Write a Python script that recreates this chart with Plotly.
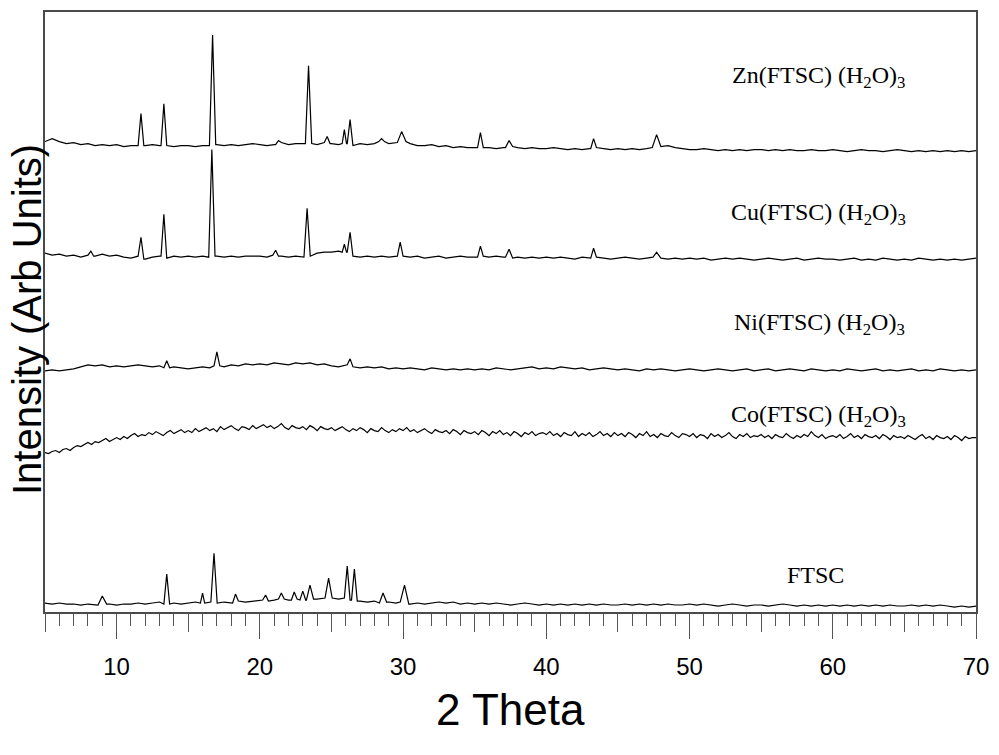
import plotly.graph_objects as go

# Baseline intensities (arb. units, stacked offsets included).
# Sampled every 0.5 deg from 5 to 70 (Co pattern every 0.25 deg).
zn_base = [472,475,472,470,471,469,470,468,469,468,
           469,467,468,468,468,469,468,468,467,468,
           468,467,468,468,469,468,469,468,469,470,
           469,468,469,471,469,470,470,470,469,471,
           470,469,470,468,470,469,470,472,470,471,
           472,470,468,468,469,467,468,466,467,466,
           466,466,466,465,466,467,466,465,466,465,
           465,466,465,464,465,464,465,466,465,464,
           465,464,465,464,465,466,467,468,466,465,
           464,464,465,464,463,464,463,464,463,464,
           464,463,464,463,464,463,463,464,463,463,
           464,463,462,463,464,463,463,462,463,464,
           463,462,463,462,463,462,463,462,463,462,
           463]
cu_base = [360,358,359,357,358,356,358,357,359,357,
           358,356,355,357,354,356,357,355,357,356,
           357,356,357,356,357,356,357,356,357,357,
           357,356,358,357,356,357,356,357,360,361,
           361,362,361,357,356,357,356,357,356,357,
           357,356,357,355,356,357,355,356,357,356,
           356,357,356,357,356,355,356,355,356,355,
           356,355,356,355,354,356,355,356,355,354,
           355,356,355,354,355,356,355,354,355,354,
           355,354,355,353,354,355,354,355,354,353,
           354,355,354,353,354,355,353,354,355,354,
           354,353,354,355,353,354,353,355,354,353,
           354,353,355,354,353,354,353,354,353,354,
           355]
ni_base = [242,243,242,243,244,246,248,247,248,246,
           247,246,247,248,247,246,247,245,246,245,
           244,245,246,245,247,246,248,247,249,248,
           249,248,250,249,248,250,249,250,248,249,
           247,246,248,246,245,246,245,246,244,245,
           244,245,244,243,245,244,243,244,243,244,
           243,244,243,245,244,243,244,245,246,244,
           245,244,246,245,244,245,243,244,245,244,
           243,244,243,242,244,243,244,243,242,243,
           244,243,242,243,244,243,242,243,244,242,
           243,244,242,243,244,243,242,244,243,242,
           243,242,244,243,242,243,244,242,243,242,
           243,244,242,243,242,244,243,242,243,242,
           243]
co_base = [160,159,161,162,160,163,164,162,165,167,166,168,170,168,171,170,172,174,171,173,
           175,173,176,174,177,179,176,178,177,180,178,181,179,177,180,182,179,181,183,180,
           182,180,184,181,183,185,182,184,181,186,183,185,187,184,182,186,185,183,187,184,
           186,188,185,187,184,186,189,185,183,187,185,184,186,183,187,185,182,186,184,183,
           185,182,184,186,183,181,184,182,185,183,180,184,182,181,185,182,180,183,181,184,
           182,185,181,183,180,182,184,181,179,183,181,180,182,179,183,181,178,182,180,179,
           181,178,182,180,177,181,179,182,178,180,177,181,179,176,180,178,181,177,179,180,
           178,181,177,179,176,180,178,177,181,176,179,177,180,176,178,181,177,179,176,180,
           177,179,176,180,178,175,179,177,181,176,178,175,179,177,176,180,177,175,179,178,
           176,179,175,178,177,174,179,176,178,175,177,180,176,174,178,176,179,175,177,176,
           178,175,177,174,178,176,175,179,176,174,177,175,178,176,181,177,175,178,174,176,
           177,175,178,174,176,179,175,177,174,178,176,175,177,174,178,176,173,177,175,176,
           174,177,175,173,176,178,174,176,173,177,175,174,176,173,177,175,172,176,174,175,
           175]
ftsc_base = [9,8,9,8,8,7,8,7,9,8,
             7,8,8,9,8,9,10,8,9,8,
             9,10,9,10,9,10,9,11,10,11,
             12,11,12,13,12,13,12,14,13,14,
             14,13,14,12,11,10,11,9,10,9,
             10,8,9,8,9,10,9,10,8,9,
             8,9,8,9,8,7,8,9,8,7,
             8,7,8,7,8,7,8,7,8,7,
             7,8,7,8,7,8,7,8,7,7,
             8,7,8,7,6,7,8,7,6,7,
             7,6,7,8,7,6,7,6,7,6,
             7,6,7,6,7,6,7,6,7,6,
             6,7,6,7,6,7,6,5,6,5,
             6]

# Peaks: (2theta, apex intensity, half width in degrees)
zn_peaks = [(11.7,500,0.2),(13.3,510,0.2),(16.7,579,0.22),(21.3,473,0.2),(23.4,548,0.22),
            (24.7,477,0.2),(25.9,484,0.15),(26.3,494,0.2),(28.5,475,0.2),(29.9,482,0.3),
            (35.4,481,0.2),(37.4,473,0.25),(43.3,475,0.2),(47.7,479,0.3)]
cu_peaks = [(8.2,362,0.2),(11.7,376,0.2),(13.3,399,0.2),(16.65,464,0.22),(21.1,363,0.2),
            (23.3,405,0.22),(25.9,369,0.15),(26.3,381,0.2),(29.8,371,0.2),(35.4,367,0.2),
            (37.4,364,0.25),(43.3,365,0.2),(47.7,361,0.25)]
ni_peaks = [(13.5,252,0.2),(17.0,261,0.2),(26.3,254,0.2)]
co_peaks = []
ftsc_peaks = [(9.0,16,0.3),(13.5,38,0.2),(16.0,19,0.15),(16.8,59,0.22),(18.3,18,0.2),
              (20.4,17,0.2),(21.5,19,0.2),(22.4,20,0.2),(23.0,21,0.2),(23.5,27,0.25),
              (24.8,34,0.25),(26.1,46,0.2),(26.6,43,0.2),(28.6,19,0.25),(30.1,27,0.3)]

tick_vals = [10, 20, 30, 40, 50, 60, 70]
tick_text = ["10", "20", "30", "40", "50", "60", "70"]

labels = ["Zn(FTSC) (H<sub>2</sub>O)<sub>3</sub>", "Cu(FTSC) (H<sub>2</sub>O)<sub>3</sub>",
          "Ni(FTSC) (H<sub>2</sub>O)<sub>3</sub>", "Co(FTSC) (H<sub>2</sub>O)<sub>3</sub>", "FTSC"]
label_x = [59.0, 59.0, 59.1, 59.0, 58.8]
label_y = [537, 399, 289, 197, 37]


def build(base, peaks, step):
    grid = [round(5.0 + step * i, 3) for i in range(len(base))]
    pts = list(zip(grid, base))
    for c, top, hw in peaks:
        lo, hi = round(c - hw, 3), round(c + hw, 3)
        fl = base[int(round((lo - 5.0) / step))]
        fr = base[int(round((hi - 5.0) / step))]
        pts = [p for p in pts if not (lo <= p[0] <= hi)]
        pts += [(lo, fl), (c, top), (hi, fr)]
    pts.sort()
    return [p[0] for p in pts], [p[1] for p in pts]


fig = go.Figure()
for base, peaks, step in [(zn_base, zn_peaks, 0.5), (cu_base, cu_peaks, 0.5),
                          (ni_base, ni_peaks, 0.5), (co_base, co_peaks, 0.25),
                          (ftsc_base, ftsc_peaks, 0.5)]:
    xs, ys = build(base, peaks, step)
    fig.add_trace(go.Scatter(x=xs, y=ys, mode="lines",
                             line=dict(color="black", width=1.2), showlegend=False,
                             hoverinfo="skip"))

# invisible trace to carry the secondary axis for the medium ticks
fig.add_trace(go.Scatter(x=[5, 70], y=[0, 0], xaxis="x2", mode="lines",
                         line=dict(width=0), showlegend=False, hoverinfo="skip"))

for txt, lx, ly in zip(labels, label_x, label_y):
    fig.add_annotation(x=lx, y=ly, text=txt, showarrow=False, xanchor="center",
                       yanchor="middle",
                       font=dict(family="Liberation Serif, Times New Roman, serif",
                                 size=24, color="black"))

fig.add_annotation(xref="paper", yref="paper", x=0.5, y=-0.163, text="2 Theta",
                   showarrow=False, xanchor="center", yanchor="middle",
                   font=dict(family="Liberation Sans, Arial, sans-serif", size=44, color="black"))
fig.add_annotation(xref="paper", yref="paper", x=-0.0195, y=0.488,
                   text="Intensity (Arb Units)", textangle=-90,
                   showarrow=False, xanchor="center", yanchor="middle",
                   font=dict(family="Liberation Sans, Arial, sans-serif", size=40, color="black"))

axis_col = "#4a4a4a"
fig.update_layout(
    width=999, height=755,
    margin=dict(l=45, r=16, t=10, b=143),
    paper_bgcolor="white", plot_bgcolor="white",
    font=dict(family="Liberation Sans, Arial, sans-serif", size=24, color="black"),
    xaxis=dict(range=[5, 70], showgrid=False, zeroline=False,
               showline=True, linecolor=axis_col, linewidth=2, mirror=True,
               ticks="outside", tickmode="array", tickvals=tick_vals, ticktext=tick_text,
               ticklen=25, tickwidth=1, tickcolor="#555555", ticklabelstandoff=7,
               tickfont=dict(family="Liberation Sans", size=24, color="black"),
               minor=dict(dtick=1, tick0=0, ticks="outside", ticklen=12, tickwidth=1,
                          tickcolor="#555555", showgrid=False)),
    xaxis2=dict(range=[5, 70], overlaying="x", anchor="y", side="bottom",
                showgrid=False, zeroline=False, showline=False,
                ticks="outside", tickvals=[5, 15, 25, 35, 45, 55, 65], ticklen=19,
                tickwidth=1, tickcolor="#555555", showticklabels=False),
    yaxis=dict(range=[0, 602], showgrid=False, zeroline=False, showline=True,
               linecolor=axis_col, linewidth=2, mirror=True, ticks="",
               showticklabels=False),
)

fig.write_html("out.html")
